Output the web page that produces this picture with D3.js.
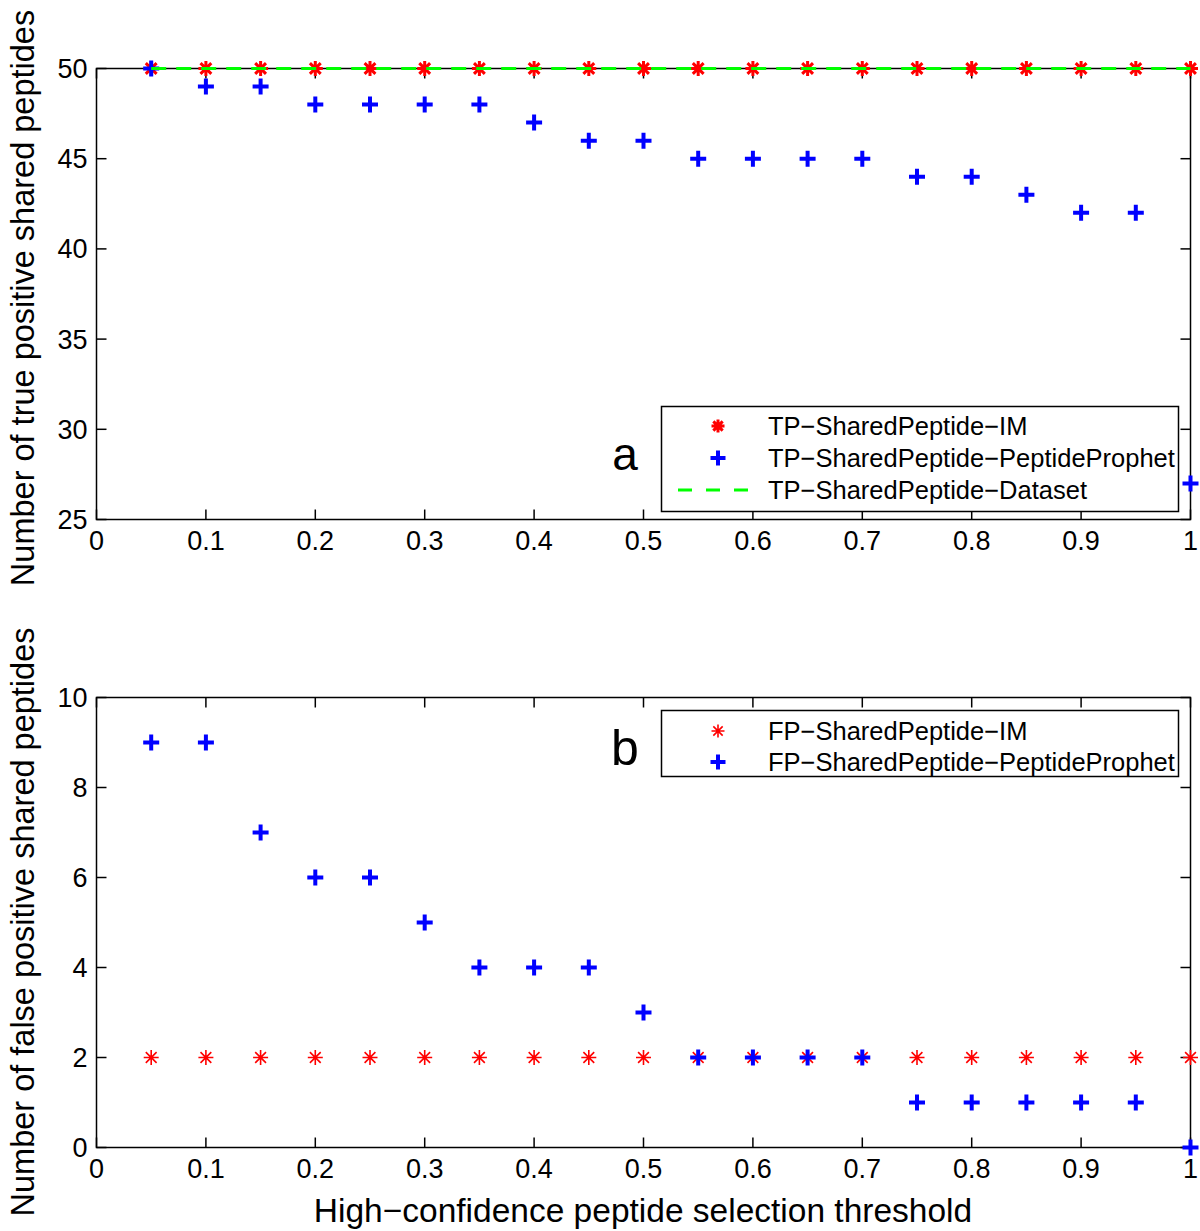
<!DOCTYPE html>
<html><head><meta charset="utf-8">
<script src="https://cdn.jsdelivr.net/npm/d3@7"></script>
<style>body{margin:0;background:#fff}text{font-family:"Liberation Sans",Arial,sans-serif}</style>
</head><body><svg id="c" width="1200" height="1231"></svg>
<script>
const thresholds = [0.05,0.1,0.15,0.2,0.25,0.3,0.35,0.4,0.45,0.5,0.55,0.6,0.65,0.7,0.75,0.8,0.85,0.9,0.95,1.0];
const tpIM = [50,50,50,50,50,50,50,50,50,50,50,50,50,50,50,50,50,50,50,50];
const tpPP = [50,49,49,48,48,48,48,47,46,46,45,45,45,45,44,44,43,42,42,27];
const tpDataset = [50,50,50,50,50,50,50,50,50,50,50,50,50,50,50,50,50,50,50,50];
const fpIM = [2,2,2,2,2,2,2,2,2,2,2,2,2,2,2,2,2,2,2,2];
const fpPP = [9,9,7,6,6,5,4,4,4,3,2,2,2,2,1,1,1,1,1,0];
const xTicks = [0,0.1,0.2,0.3,0.4,0.5,0.6,0.7,0.8,0.9,1];
const yTicksA = [25,30,35,40,45,50];
const yTicksB = [0,2,4,6,8,10];

const svg = d3.select("#c");
const L = 96.5, R = 1190.5;
const x = d3.scaleLinear().domain([0,1]).range([L,R]);

function asterisk(g, cx, cy, s, w){
  const a = s/2, d = a*0.72;
  g.append("path").attr("d",`M${cx-a},${cy}L${cx+a},${cy}M${cx},${cy-a}L${cx},${cy+a}M${cx-d},${cy-d}L${cx+d},${cy+d}M${cx-d},${cy+d}L${cx+d},${cy-d}`)
   .attr("stroke","#ff0000").attr("stroke-width",w).attr("fill","none");
}
function plus(g, cx, cy, s, w){
  const a = s/2;
  g.append("path").attr("d",`M${cx-a},${cy}L${cx+a},${cy}M${cx},${cy-a}L${cx},${cy+a}`)
   .attr("stroke","#0000ff").attr("stroke-width",w).attr("fill","none");
}

function panel(top, bottom, domain, yTicks, label, labCenter){
  const y = d3.scaleLinear().domain(domain).range([bottom, top]);
  const g = svg.append("g");
  g.append("rect").attr("x",L).attr("y",top).attr("width",R-L).attr("height",bottom-top)
   .attr("fill","none").attr("stroke","#000").attr("stroke-width",1.5);
  const tl = 10;
  xTicks.forEach(t=>{
    g.append("line").attr("x1",x(t)).attr("x2",x(t)).attr("y1",bottom).attr("y2",bottom-tl).attr("stroke","#000").attr("stroke-width",1.5);
    g.append("line").attr("x1",x(t)).attr("x2",x(t)).attr("y1",top).attr("y2",top+tl).attr("stroke","#000").attr("stroke-width",1.5);
    g.append("text").attr("x",x(t)).attr("y",bottom+30).attr("text-anchor","middle").attr("font-size",27).text(String(t));
  });
  yTicks.forEach(t=>{
    g.append("line").attr("x1",L).attr("x2",L+tl).attr("y1",y(t)).attr("y2",y(t)).attr("stroke","#000").attr("stroke-width",1.5);
    g.append("line").attr("x1",R).attr("x2",R-tl).attr("y1",y(t)).attr("y2",y(t)).attr("stroke","#000").attr("stroke-width",1.5);
    g.append("text").attr("x",L-9).attr("y",y(t)+9.5).attr("text-anchor","end").attr("font-size",27).text(String(t));
  });
  g.append("text").attr("transform",`translate(34,${labCenter}) rotate(-90)`).attr("text-anchor","middle").attr("font-size",32.5).text(label);
  return {g,y};
}

// Panel a
const A = panel(68.5, 519.5, [25,50], yTicksA, "Number of true positive shared peptides", 298);
thresholds.forEach((t,i)=>asterisk(A.g, x(t), A.y(tpIM[i]), 15, 3));
thresholds.forEach((t,i)=>plus(A.g, x(t), A.y(tpPP[i]), 16, 4));
A.g.append("path").datum(thresholds.map((t,i)=>[t,tpDataset[i]]))
  .attr("d", d3.line().x(d=>x(d[0])).y(d=>A.y(d[1])))
  .attr("fill","none").attr("stroke","#00ff00").attr("stroke-width",3).attr("stroke-dasharray","15,10");
A.g.append("text").attr("x",625).attr("y",470).attr("text-anchor","middle").attr("font-size",46).text("a");
const la = A.g.append("g");
la.append("rect").attr("x",661.5).attr("y",406.5).attr("width",517).attr("height",105).attr("fill","#fff").attr("stroke","#000").attr("stroke-width",1.5);
asterisk(la, 718, 426, 13, 3);
la.append("text").attr("x",768).attr("y",435).attr("font-size",25.5).text("TP\u2212SharedPeptide\u2212IM");
plus(la, 718, 458, 15, 4);
la.append("text").attr("x",768).attr("y",467).attr("font-size",25.5).text("TP\u2212SharedPeptide\u2212PeptideProphet");
la.append("line").attr("x1",678).attr("x2",758).attr("y1",490).attr("y2",490).attr("stroke","#00ff00").attr("stroke-width",3).attr("stroke-dasharray","14,14");
la.append("text").attr("x",768).attr("y",499).attr("font-size",25.5).text("TP\u2212SharedPeptide\u2212Dataset");

// Panel b
const B = panel(697.5, 1147.5, [0,10], yTicksB, "Number of false positive shared peptides", 922);
thresholds.forEach((t,i)=>asterisk(B.g, x(t), B.y(fpIM[i]), 15, 1.6));
thresholds.forEach((t,i)=>plus(B.g, x(t), B.y(fpPP[i]), 16, 4));
B.g.append("text").attr("x",625).attr("y",765).attr("text-anchor","middle").attr("font-size",50).text("b");
const lb = B.g.append("g");
lb.append("rect").attr("x",661.5).attr("y",710.5).attr("width",517).attr("height",66).attr("fill","#fff").attr("stroke","#000").attr("stroke-width",1.5);
asterisk(lb, 718, 731, 13, 1.6);
lb.append("text").attr("x",768).attr("y",740).attr("font-size",25.5).text("FP\u2212SharedPeptide\u2212IM");
plus(lb, 718, 762, 15, 4);
lb.append("text").attr("x",768).attr("y",771).attr("font-size",25.5).text("FP\u2212SharedPeptide\u2212PeptideProphet");

svg.append("text").attr("x",643).attr("y",1222).attr("text-anchor","middle").attr("font-size",33.5).text("High\u2212confidence peptide selection threshold");
</script></body></html>
